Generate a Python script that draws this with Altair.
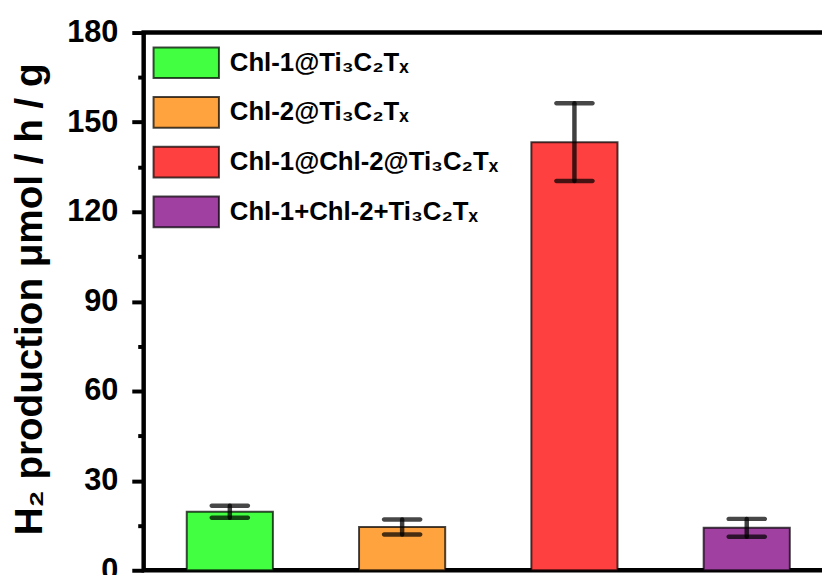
import altair as alt
import pandas as pd

categories = ["Chl-1@Ti₃C₂Tₓ", "Chl-2@Ti₃C₂Tₓ", "Chl-1@Chl-2@Ti₃C₂Tₓ", "Chl-1+Chl-2+Ti₃C₂Tₓ"]
values = [19.6, 14.5, 143.3, 14.2]
errors = [2.0, 2.5, 13.0, 3.0]
colors = ["#42FF42", "#FFA33F", "#FF4040", "#A040A0"]
y_ticks = list(range(0, 181, 15))

df = pd.DataFrame({"cat": categories, "val": values, "err": errors})
df["lo"] = df["val"] - df["err"]
df["hi"] = df["val"] + df["err"]

FONT = "Liberation Sans"
TITLE = "H₂ production μmol / h / g"
EDGE = "rgba(0,0,0,0.72)"

xenc = alt.X("cat:N", sort=categories,
             scale=alt.Scale(paddingInner=0.5, paddingOuter=0.25), axis=None)
yscale = alt.Scale(domain=[0, 180], nice=False)
yaxis = alt.Axis(
    values=y_ticks,
    labelExpr="datum.value % 30 == 0 ? datum.label : ''",
    tickSize={"condition": {"test": "datum.value % 30 != 0", "value": 6}, "value": 12},
    tickWidth=4, tickColor="black", domain=False, grid=False,
    labelFont=FONT, labelFontSize=31, labelFontWeight="bold", labelColor="black",
    labelPadding=14,
    title=TITLE, titleFont=FONT, titleFontSize=39, titleFontWeight="bold",
    titleColor="black", titleAngle=270, titleBaseline="alphabetic",
    titleX=-103, titleY=269, titleAlign="center",
)

legend = alt.Legend(
    orient="none", legendX=26.5, legendY=14, title=None,
    symbolType="M-2.13,-1H2.13V1H-2.13Z", symbolSize=961,
    symbolStrokeColor=EDGE, symbolStrokeWidth=2, symbolOpacity=1,
    labelFont=FONT, labelFontSize=26, labelFontWeight="bold", labelColor="black",
    labelOffset=27.5, rowPadding=11.2, padding=0, labelLimit=0,
)

bars = alt.Chart(df).mark_bar(stroke=EDGE, strokeWidth=2, opacity=1).encode(
    x=xenc,
    y=alt.Y("val:Q", scale=yscale, axis=yaxis),
    fill=alt.Fill("cat:N", sort=categories,
                  scale=alt.Scale(domain=categories, range=colors), legend=legend),
)

rules = alt.Chart(df).mark_rule(color="black", opacity=0.75, strokeWidth=4.5,
                                strokeCap="round").encode(
    x=xenc, y=alt.Y("lo:Q", scale=yscale, title=TITLE), y2="hi:Q")

caps_hi = alt.Chart(df).mark_tick(color="black", opacity=0.72, thickness=4.5,
                                  size=41, cornerRadius=2.25).encode(
    x=xenc, y=alt.Y("hi:Q", scale=yscale, title=TITLE))
caps_lo = alt.Chart(df).mark_tick(color="black", opacity=0.72, thickness=4.5,
                                  size=41, cornerRadius=2.25).encode(
    x=xenc, y=alt.Y("lo:Q", scale=yscale, title=TITLE))

chart = alt.layer(bars, rules, caps_hi, caps_lo).properties(
    width=696, height=543,
    padding={"left": 137, "top": 22, "right": -11, "bottom": 2},
    autosize=alt.AutoSizeParams(type="none"),
).configure_view(stroke="black", strokeWidth=4.5)

chart.save("out.html", embed_options={"renderer": "svg", "actions": False})
